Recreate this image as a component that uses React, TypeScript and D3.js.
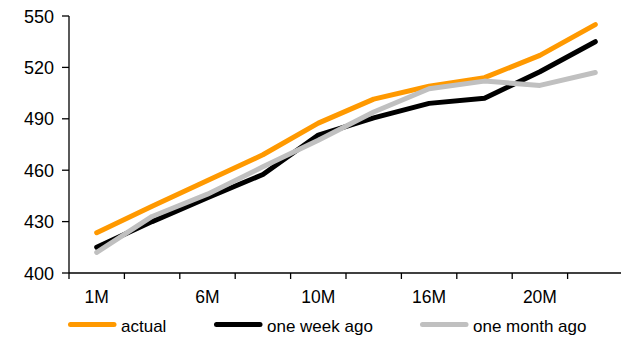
import React from "react";
import * as d3 from "d3";

// Tenor buckets along the curve
const tenors = ["1M", "3M", "6M", "9M", "10M", "12M", "16M", "18M", "20M", "24M"];
// Only every other tenor gets a label
const tenorLabels = ["1M", "6M", "10M", "16M", "20M"];

const actual = [423.5, 439, 454, 469, 487.5, 501.5, 509, 514, 527, 545];
const oneWeekAgo = [415, 430, 444, 457.5, 480.5, 490.5, 499, 502, 517.5, 535];
const oneMonthAgo = [412, 433, 446, 462, 477.5, 494, 507.5, 512, 509.5, 517];

const yTicks = [400, 430, 460, 490, 520, 550];

const seriesNames = ["actual", "one week ago", "one month ago"];
const seriesColors = ["#FF9900", "#000000", "#C0C0C0"];
const seriesValues = [actual, oneWeekAgo, oneMonthAgo];

const W = 621;
const H = 337;
const left = 69;
const right = 623;
const top = 16;
const bottom = 273;
const font = "'Liberation Sans', Arial, sans-serif";

export default function App() {
  const x = d3.scaleBand<string>().domain(tenors).range([left, right]).padding(0);
  const y = d3.scaleLinear().domain([400, 550]).range([bottom, top]);
  const cx = (t: string) => (x(t) as number) + x.bandwidth() / 2;

  const line = d3
    .line<number>()
    .x((_, i) => cx(tenors[i]))
    .y((v) => y(v));

  const boundaries = tenors.map((t) => x(t) as number).concat([right]);
  const legendX = [68, 214, 420];
  const legendY = 324.5;

  return (
    <svg
      width={W}
      height={H}
      style={{ position: "absolute", left: 0, top: 0, display: "block" }}
      fontFamily={font}
    >
      <rect width={W} height={H} fill="#fff" />

      {/* series drawn in legend order, later ones on top */}
      {seriesValues.map((vals, k) => (
        <path
          key={seriesNames[k]}
          d={line(vals) || ""}
          fill="none"
          stroke={seriesColors[k]}
          strokeWidth={5}
          strokeLinecap="round"
          strokeLinejoin="round"
        />
      ))}

      {/* y axis */}
      <line x1={left} x2={left} y1={top} y2={bottom} stroke="#000" strokeWidth={1.3} />
      {yTicks.map((t) => (
        <g key={t}>
          <line x1={left - 7} x2={left} y1={y(t)} y2={y(t)} stroke="#000" strokeWidth={1.3} />
          <text x={54} y={y(t) + 6.5} textAnchor="end" fontSize={18} fill="#000">
            {t}
          </text>
        </g>
      ))}

      {/* x axis */}
      <line x1={left} x2={right} y1={bottom} y2={bottom} stroke="#000" strokeWidth={1.3} />
      {boundaries.map((b, i) => (
        <line key={i} x1={b} x2={b} y1={bottom} y2={bottom + 6} stroke="#000" strokeWidth={1.3} />
      ))}
      {tenorLabels.map((t) => (
        <text key={t} x={cx(t)} y={302.5} textAnchor="middle" fontSize={17.5} fill="#000">
          {t}
        </text>
      ))}

      {/* legend */}
      {seriesNames.map((name, i) => (
        <g key={name}>
          <line
            x1={legendX[i] + 2.5}
            x2={legendX[i] + 46}
            y1={legendY}
            y2={legendY}
            stroke={seriesColors[i]}
            strokeWidth={5}
            strokeLinecap="round"
          />
          <text x={legendX[i] + 53} y={331.5} fontSize={17} fill="#000">
            {name}
          </text>
        </g>
      ))}
    </svg>
  );
}
